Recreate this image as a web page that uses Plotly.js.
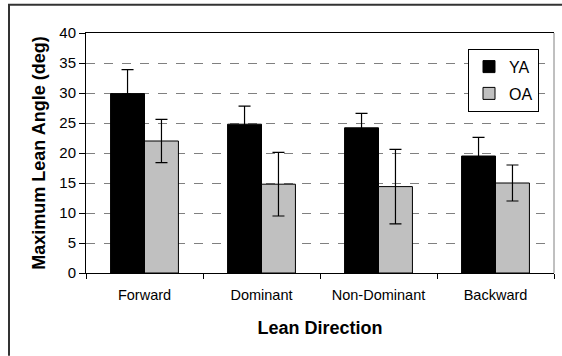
<!DOCTYPE html>
<html>
<head>
<meta charset="utf-8">
<script src="https://cdn.plot.ly/plotly-3.0.1.min.js"></script>
<style>html,body{margin:0;padding:0;background:#fff;}#chart{width:562px;height:356px;}</style>
</head>
<body>
<div id="chart"></div>
<script>
var categories = ["Forward", "Dominant", "Non-Dominant", "Backward"];
var yaMean = [29.9, 24.8, 24.2, 19.5];
var yaErr = [4.0, 3.0, 2.4, 3.1];
var oaMean = [22.0, 14.8, 14.4, 15.0];
var oaErr = [3.6, 5.3, 6.2, 3.0];
var yTicks = [0, 5, 10, 15, 20, 25, 30, 35, 40];

var L = 86, R = 554, T = 33.3, B = 273.3, W = 562, H = 356;
function px(x){ return (x - L) / (R - L); }
function py(y){ return (B - y) / (B - T); }

var traces = [
  {type: "bar", name: "YA", x: categories, y: yaMean, legendgroup: "a",
   marker: {color: "#000000", line: {color: "#000000", width: 1}},
   error_y: {type: "data", array: yaErr, visible: true, color: "#000000", thickness: 1.2, width: 6}},
  {type: "bar", name: "OA", x: categories, y: oaMean, legendgroup: "b",
   marker: {color: "#c0c0c0", line: {color: "#000000", width: 1}},
   error_y: {type: "data", array: oaErr, visible: true, color: "#000000", thickness: 1.2, width: 6}}
];

var layout = {
  width: W, height: H,
  margin: {l: L, r: W - R, t: T, b: H - B, pad: 0},
  paper_bgcolor: "#ffffff", plot_bgcolor: "#ffffff",
  font: {family: "Liberation Sans, Arial, sans-serif", color: "#000000"},
  barmode: "group", bargap: 0.42, bargroupgap: 0,
  showlegend: true,
  legend: {x: px(539), y: py(49), xanchor: "right", yanchor: "top",
           bgcolor: "#ffffff", bordercolor: "#000000", borderwidth: 1,
           font: {size: 16, family: "Liberation Sans, Arial, sans-serif"},
           traceorder: "grouped", tracegroupgap: 3, itemwidth: 30},
  xaxis: {type: "category", showline: true, linecolor: "#000000", linewidth: 1, mirror: true,
          ticks: "outside", tickson: "boundaries", ticklen: 5, tickcolor: "#000000",
          ticklabelstandoff: 9,
          tickfont: {size: 14.5}, showgrid: false, zeroline: false,
          title: {text: "<b>Lean Direction</b>", font: {size: 18}, standoff: 18}},
  yaxis: {range: [0, 40], tickvals: yTicks, ticktext: yTicks.map(String),
          showline: true, linecolor: "#000000", linewidth: 1,
          ticks: "outside", ticklen: 6, tickcolor: "#000000",
          tickfont: {size: 15}, showgrid: true, gridcolor: "#808080", griddash: "dash", gridwidth: 1,
          zeroline: false,
          title: {text: "<b>Maximum Lean Angle (deg)</b>", font: {size: 18}, standoff: 9}},
  shapes: [
    {type: "line", xref: "paper", yref: "paper", x0: 1, x1: 1, y0: 0, y1: 1,
     line: {color: "#808080", width: 1}},
    {type: "line", xref: "paper", yref: "paper", x0: px(8), x1: px(562), y0: py(5), y1: py(5),
     line: {color: "#333333", width: 2}},
    {type: "line", xref: "paper", yref: "paper", x0: px(9), x1: px(9), y0: py(5), y1: py(356),
     line: {color: "#333333", width: 2}}
  ]
};

Plotly.newPlot("chart", traces, layout, {displayModeBar: false, staticPlot: true});
</script>
</body>
</html>
